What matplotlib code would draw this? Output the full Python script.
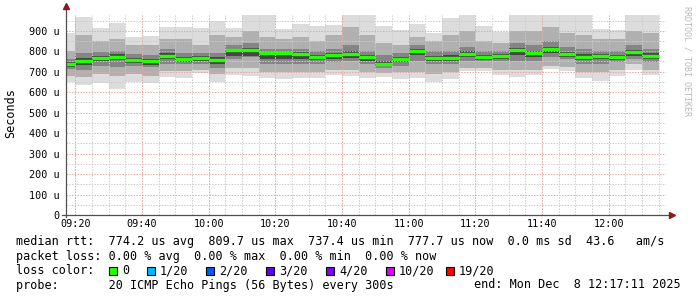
import matplotlib
matplotlib.use("Agg")
import matplotlib.pyplot as plt
from matplotlib.patches import Rectangle
import pandas as pd

# ---------------- data (values in microseconds) ----------------
bar_start = "2025-12-08 09:15:00"
bar_step = "5min"
view_start = "2025-12-08 09:17:11"
view_end = "2025-12-08 12:17:11"

rtt_min = [651, 635, 643, 614, 652, 643, 675, 670, 692, 652, 684, 680, 670, 664, 670, 670, 686, 678,
           670, 672, 664, 670, 651, 664, 702, 704, 686, 676, 682, 712, 705, 668, 654, 680, 708, 684]
rtt_p10 = [680, 675, 690, 680, 690, 680, 705, 705, 710, 690, 720, 720, 700, 700, 700, 700, 710, 710,
           700, 695, 700, 700, 690, 700, 720, 720, 710, 710, 710, 730, 725, 700, 700, 710, 740, 710]
rtt_p25 = [715, 710, 730, 725, 730, 725, 740, 740, 740, 720, 760, 770, 740, 740, 740, 740, 745, 750,
           740, 720, 730, 750, 740, 740, 750, 750, 750, 750, 750, 770, 760, 740, 740, 745, 760, 745]
rtt_p40 = [725, 735, 752, 755, 742, 735, 760, 748, 752, 738, 775, 775, 760, 760, 762, 755, 762, 765,
           752, 728, 745, 780, 752, 752, 770, 758, 762, 780, 770, 790, 770, 755, 760, 758, 778, 760]
rtt_med = [738, 752, 768, 773, 758, 753, 776, 761, 768, 758, 806, 807, 789, 790, 785, 773, 781, 788,
           770, 740, 762, 803, 768, 768, 787, 771, 778, 805, 790, 810, 786, 773, 778, 774, 794, 778]
rtt_p60 = [748, 765, 778, 785, 768, 763, 790, 772, 778, 770, 812, 815, 795, 797, 795, 782, 792, 800,
           780, 752, 772, 812, 778, 780, 800, 782, 786, 815, 800, 822, 796, 785, 788, 784, 805, 790]
rtt_p75 = [760, 790, 795, 800, 785, 780, 810, 790, 790, 790, 830, 840, 810, 810, 810, 800, 810, 830,
           800, 780, 790, 830, 800, 800, 820, 800, 800, 840, 830, 850, 820, 810, 800, 800, 830, 810]
rtt_p90 = [800, 880, 850, 860, 830, 830, 860, 860, 830, 880, 870, 900, 870, 860, 870, 850, 880, 920,
           880, 840, 830, 870, 850, 880, 900, 850, 840, 900, 900, 920, 890, 880, 860, 860, 900, 890]
rtt_max = [890, 968, 912, 940, 870, 874, 916, 916, 912, 946, 914, 980, 980, 911, 933, 923, 928, 980,
           980, 922, 903, 933, 890, 960, 980, 922, 896, 980, 980, 980, 980, 980, 907, 902, 980, 980]

y_ticks = [0, 100, 200, 300, 400, 500, 600, 700, 800, 900]
y_tick_labels = ["0", "100 u", "200 u", "300 u", "400 u", "500 u", "600 u", "700 u", "800 u", "900 u"]
y_top = 977
x_tick_labels = ["09:20", "09:40", "10:00", "10:20", "10:40", "11:00", "11:20", "11:40", "12:00"]

loss_labels = ["0", "1/20", "2/20", "3/20", "4/20", "10/20", "19/20"]
loss_colors = ["#26ff00", "#00b8ff", "#0059ff", "#5e00ff", "#7e00ff", "#dd00ff", "#ff0000"]

line_rtt = "median rtt:  774.2 us avg  809.7 us max  737.4 us min  777.7 us now  0.0 ms sd  43.6   am/s"
line_loss = "packet loss: 0.00 % avg  0.00 % max  0.00 % min  0.00 % now"
line_probe = "probe:       20 ICMP Echo Pings (56 Bytes) every 300s"
line_end = "end: Mon Dec  8 12:17:11 2025"

# ---------------- helpers ----------------
def tmin(ts):
    ts = pd.Timestamp(ts)
    return ts.hour * 60 + ts.minute + ts.second / 60.0

n = len(rtt_med)
bar_times = pd.date_range(bar_start, periods=n, freq=bar_step)
bx = [tmin(t) for t in bar_times]
bw = pd.Timedelta(bar_step).total_seconds() / 60.0

W, H = 697, 297
fig = plt.figure(figsize=(W / 100, H / 100), dpi=100)
fig.patch.set_facecolor("white")
L, R, T, B = 66, 666, 15, 215
ax = fig.add_axes([L / W, 1 - B / H, (R - L) / W, (B - T) / H])
ax.set_facecolor("white")

x0, x1 = tmin(view_start), tmin(view_end)
ax.set_xlim(x0, x1)
ax.set_ylim(0, y_top)

mono = "DejaVu Sans Mono"

# smoke
def band(lo, hi, color):
    ax.bar(bx, [h - l for l, h in zip(lo, hi)], bottom=lo, width=bw, align="edge",
           color=color, linewidth=0, zorder=1)

band(rtt_min, rtt_max, "#dcdcdc")
band(rtt_p10, rtt_p90, "#b0b0b0")
band(rtt_p25, rtt_p75, "#858585")
band(rtt_p40, rtt_p60, "#464646")

# grid (drawn over the smoke)
dot = (0, (1.4, 1.4))
for v in range(50, 1000, 100):
    ax.axhline(v, color="#cccccc", lw=0.72, ls=dot, zorder=3)
for v in y_ticks[1:]:
    ax.axhline(v, color="#e6a6a6", lw=0.72, ls=dot, zorder=3)
xt = [tmin("2025-12-08 " + s) for s in x_tick_labels]
minor = pd.date_range("2025-12-08 09:20", "2025-12-08 12:15", freq="5min")
for t in minor:
    ax.axvline(tmin(t), color="#cccccc", lw=0.72, ls=dot, zorder=3)
for v in xt:
    ax.axvline(v, color="#e6a6a6", lw=0.72, ls=dot, zorder=3)

# median line
ax.hlines(rtt_med, bx, [b + bw for b in bx], colors=loss_colors[0], lw=2.4, zorder=4)

# axes
for s in ax.spines.values():
    s.set_visible(False)
ax.set_yticks(y_ticks)
ax.set_yticklabels(y_tick_labels, fontfamily=mono, fontsize=7.3)
ax.set_xticks(xt)
ax.set_xticklabels(x_tick_labels, fontfamily=mono, fontsize=7.3)
ax.tick_params(length=0, pad=4.5, colors="black")
ax.tick_params(axis="x", pad=3)

ax.plot([0, 0], [-0.01, 1.04], transform=ax.transAxes, color="#505050", lw=0.9, clip_on=False, zorder=5)
ax.plot([-0.007, 1.008], [0, 0], transform=ax.transAxes, color="#505050", lw=0.9, clip_on=False, zorder=5)
ax.plot([0], [1.045], transform=ax.transAxes, marker="^", ms=4, color="#8b1a1a", clip_on=False, zorder=6)
ax.plot([1.01], [0], transform=ax.transAxes, marker=">", ms=4, color="#8b1a1a", clip_on=False, zorder=6)

fig.text(11 / W, 1 - 113 / H, "Seconds", rotation=90, ha="center", va="center",
         fontfamily=mono, fontsize=8.5)
fig.text(687 / W, 1 - 6 / H, "RRDTOOL / TOBI OETIKER", rotation=270, ha="center", va="top",
         fontfamily=mono, fontsize=6, color="#b8b8b8")

# legend
def ftext(x, y, s, **kw):
    fig.text(x / W, 1 - y / H, s, fontfamily=mono, fontsize=8.5, va="center", **kw)

ftext(16, 242, line_rtt)
ftext(16, 256.5, line_loss)
ftext(16, 271, "loss color:")
ftext(16, 285, line_probe)
ftext(681, 285, line_end, ha="right")

sw_x = [109, 147, 206, 266, 326, 386, 446]
for xs, lab, col in zip(sw_x, loss_labels, loss_colors):
    fig.patches.append(Rectangle((xs / W, 1 - 275 / H), 8 / W, 8 / H, transform=fig.transFigure,
                                 facecolor=col, edgecolor="black", lw=0.8))
    ftext(xs + 13, 271, lab)

fig.savefig("out.png", dpi=100, facecolor="white")
